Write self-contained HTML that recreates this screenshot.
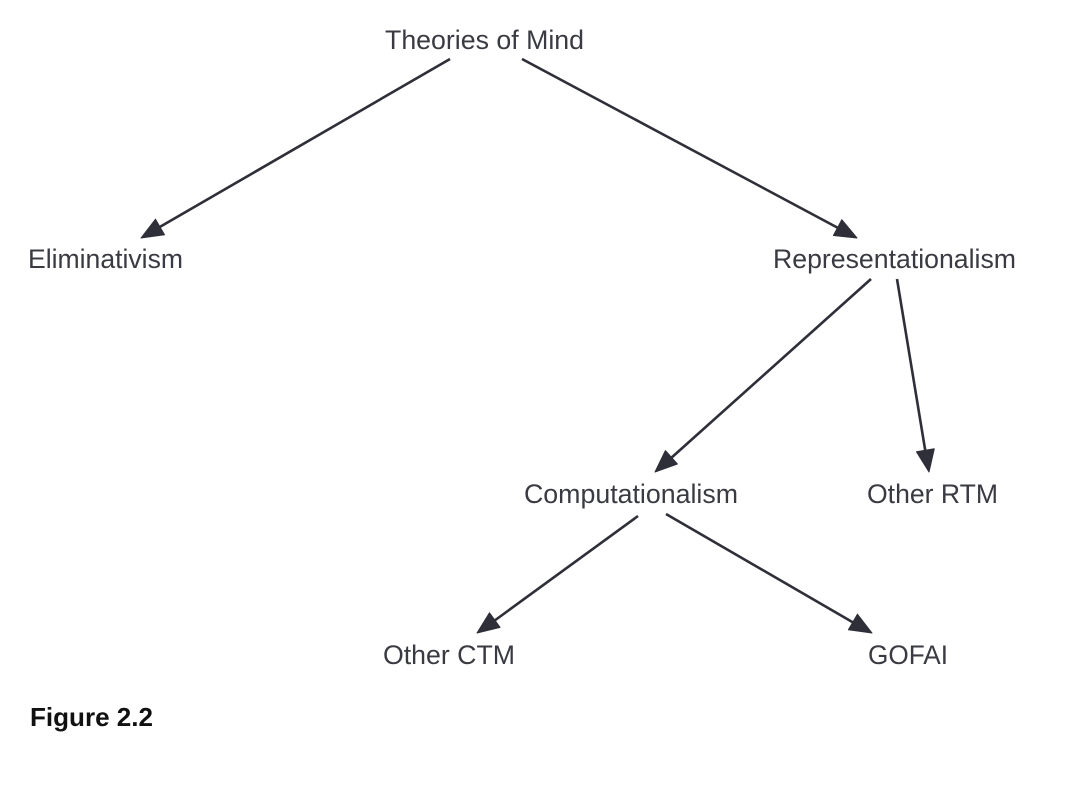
<!DOCTYPE html>
<html lang="en">
<head>
<meta charset="utf-8">
<title>Figure 2.2</title>
<style>
html,body{margin:0;padding:0;background:#fff;width:1080px;height:793px;overflow:hidden}
svg{display:block}
.n{font-family:"Liberation Sans",Arial,sans-serif;font-size:26.7px;fill:#3a3b42}
.f{font-family:"Liberation Sans",Arial,sans-serif;font-size:26px;font-weight:bold;fill:#111}
line{stroke:#2e2f38;stroke-width:2.6}
polygon{fill:#2e2f38;stroke:#2e2f38;stroke-width:1;stroke-linejoin:round}
</style>
</head>
<body>
<svg width="1080" height="793" viewBox="0 0 1080 793" xmlns="http://www.w3.org/2000/svg">
<rect width="1080" height="793" fill="#fff"/>

<line x1="450" y1="59" x2="158" y2="228"/>
<polygon points="141,238 155.5,219.2 164.5,234.8"/>

<line x1="522" y1="59" x2="840" y2="229"/>
<polygon points="857,238 841.8,219.7 833.4,235.5"/>

<line x1="871" y1="279" x2="670" y2="459"/>
<polygon points="655,472 677.4,464 665.4,450.6"/>

<line x1="897" y1="279" x2="925.5" y2="452"/>
<polygon points="929,472 934.3,448.8 916.5,451.8"/>

<line x1="638" y1="516" x2="494" y2="621"/>
<polygon points="477,633 500.1,627.4 489.5,612.8"/>

<line x1="666" y1="514" x2="854" y2="623"/>
<polygon points="872,633 857.4,614.2 848.4,629.8"/>

<text class="n" x="385" y="49" textLength="199" lengthAdjust="spacingAndGlyphs">Theories of Mind</text>
<text class="n" x="28" y="268" textLength="155" lengthAdjust="spacingAndGlyphs">Eliminativism</text>
<text class="n" x="773" y="268" textLength="243" lengthAdjust="spacingAndGlyphs">Representationalism</text>
<text class="n" x="524" y="503" textLength="214" lengthAdjust="spacingAndGlyphs">Computationalism</text>
<text class="n" x="867" y="503" textLength="131" lengthAdjust="spacingAndGlyphs">Other RTM</text>
<text class="n" x="383" y="664" textLength="132" lengthAdjust="spacingAndGlyphs">Other CTM</text>
<text class="n" x="868" y="664" textLength="80" lengthAdjust="spacingAndGlyphs">GOFAI</text>
<text class="f" x="30" y="726" textLength="123" lengthAdjust="spacingAndGlyphs">Figure 2.2</text>
</svg>
</body>
</html>
